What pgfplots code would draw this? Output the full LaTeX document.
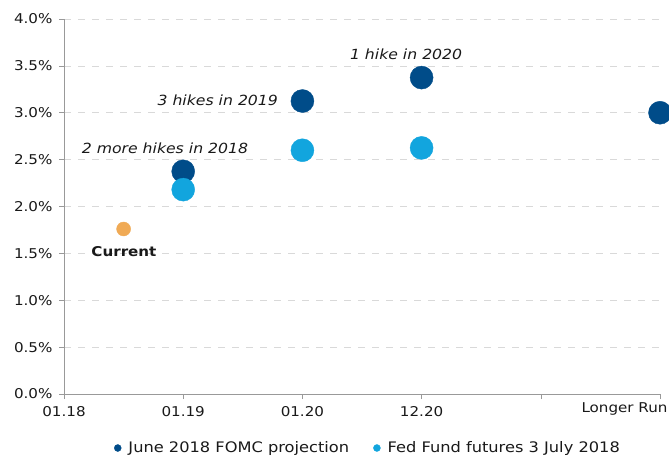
\documentclass[border=0pt]{standalone}
\usepackage{fontspec}
\setmainfont{DejaVu Sans}[FakeStretch=1.12]
\usepackage{pgfplots}
\pgfplotsset{compat=1.18}
\definecolor{fomc}{RGB}{0,76,137}
\definecolor{futures}{RGB}{18,165,222}
\definecolor{curr}{RGB}{240,170,85}
\begin{document}
\begin{tikzpicture}
\begin{axis}[
  name=ax,
  scale only axis, width=596pt, height=375pt,
  xmin=0, xmax=5, ymin=0, ymax=4,
  axis lines*=left,
  axis line style={gray!80},
  tick style={gray!80, line width=0.6pt},
  tick align=outside, major tick length=5pt,
  xtick={0,1,2,3,4}, xticklabels={01.18,01.19,01.20,12.20,{}},
  xticklabel style={yshift=-4pt},
  extra x ticks={5}, extra x tick labels={Longer Run},
  extra x tick style={tick label style={anchor=north east, xshift=11pt, yshift=4pt}},
  ytick={0,0.5,1,1.5,2,2.5,3,3.5,4},
  yticklabel={\pgfmathprintnumber[fixed,fixed zerofill,precision=1]{\tick}\%},
  yticklabel style={xshift=-3pt},
  ymajorgrids, grid style={dash pattern=on 7pt off 7pt, gray!30, line width=0.6pt},
  tick label style={font=\fontsize{13.5}{15}\selectfont, text=black!90},
  /pgf/number format/assume math mode=true,
  clip=false,
  legend style={at={(0.51,-0.144)}, anchor=center, draw=none, legend columns=2,
    font=\fontsize{14.5}{16}\selectfont, text=black!90,
    /tikz/every odd column/.append style={column sep=5pt},
    /tikz/every even column/.append style={column sep=22pt}},
  legend image code/.code={\fill[#1] (0.1cm,0cm) circle (3.5pt);},
]
\addplot[only marks, mark=*, mark size=11.5pt, color=fomc, forget plot]
  coordinates {(1,2.375) (2,3.125) (3,3.375) (5,3.0)};
\addplot[only marks, mark=*, mark size=11.5pt, color=futures, forget plot]
  coordinates {(1,2.18) (2,2.60) (3,2.625)};
\addplot[only marks, mark=*, mark size=7pt, color=curr, forget plot]
  coordinates {(0.5,1.76)};
\addlegendimage{fomc}
\addlegendentry{June 2018 FOMC projection}
\addlegendimage{futures}
\addlegendentry{Fed Fund futures 3 July 2018}
\node[font=\fontsize{14}{16}\selectfont\itshape, text=black!90] at (axis cs:0.847,2.62) {2 more hikes in 2018};
\node[font=\fontsize{14}{16}\selectfont\itshape, text=black!90] at (axis cs:1.29,3.136) {3 hikes in 2019};
\node[font=\fontsize{14}{16}\selectfont\itshape, text=black!90] at (axis cs:2.87,3.627) {1 hike in 2020};
\node[font=\fontsize{13.5}{15}\selectfont\bfseries, text=black!90] at (axis cs:0.503,1.515) {Current};
\end{axis}
\pgfresetboundingbox
\path[use as bounding box] ([xshift=-64pt,yshift=-63pt]ax.south west) rectangle ([xshift=9pt,yshift=19pt]ax.north east);
\end{tikzpicture}
\end{document}
